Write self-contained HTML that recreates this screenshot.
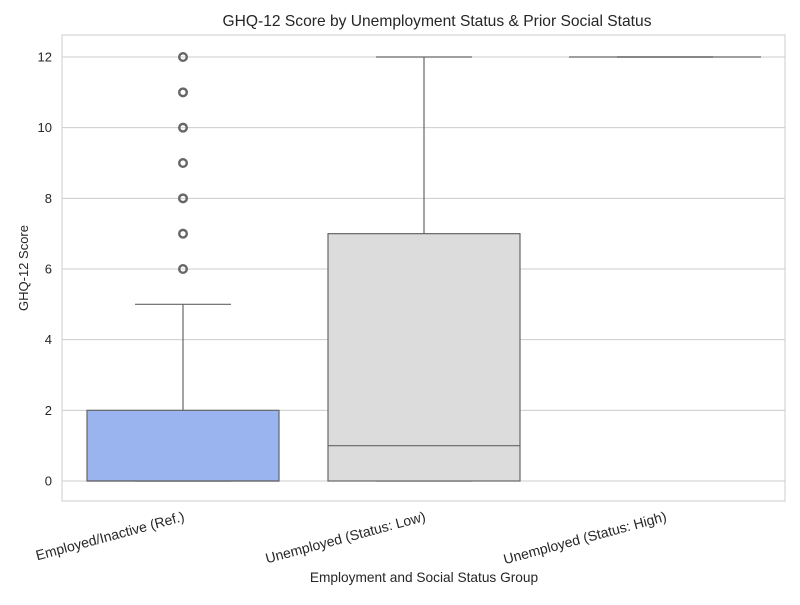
<!DOCTYPE html>
<html><head><meta charset="utf-8"><style>
body{margin:0;background:#fff}
text{font-family:"Liberation Sans",Arial,sans-serif;fill:#262626}
</style></head><body>
<svg id="chart" width="800" height="600" viewBox="0 0 800 600" xmlns="http://www.w3.org/2000/svg">
<rect width="800" height="600" fill="#fff"/>
<text x="437" y="26" text-anchor="middle" font-size="15.6">GHQ-12 Score by Unemployment Status &amp; Prior Social Status</text>
<g id="grid"></g>
<g id="boxes"></g>
<rect x="62" y="35" width="723" height="466" fill="none" stroke="#cccccc" stroke-width="1"/>
<text transform="translate(28,268) rotate(-90)" text-anchor="middle" font-size="13">GHQ-12 Score</text>
<text x="424" y="582" text-anchor="middle" font-size="13.7">Employment and Social Status Group</text>
</svg>
<script>
const categories=["Employed/Inactive (Ref.)","Unemployed (Status: Low)","Unemployed (Status: High)"];
const q1=[0,0,12];
const medians=[0,1,12];
const q3=[2,7,12];
const whiskLo=[0,0,12];
const whiskHi=[5,12,12];
const outliers=[[6,7,8,9,10,11,12],[],[]];
const colors=["#9ab4f0","#dcdcdc","#dcdcdc"];
const yTicks=[0,2,4,6,8,10,12];

const NS="http://www.w3.org/2000/svg";
const y=v=>481-v*(424/12);
const xc=i=>183+i*241;
const bw=192;
function mk(tag,attrs,parent){const e=document.createElementNS(NS,tag);for(const k in attrs)e.setAttribute(k,attrs[k]);parent.appendChild(e);return e;}
const grid=document.getElementById('grid'),boxes=document.getElementById('boxes'),svg=document.getElementById('chart');
yTicks.forEach(t=>{
  const l=mk('line',{x1:62,x2:785,y1:y(t),y2:y(t),stroke:'#cccccc','stroke-width':1},grid);
  
  
  const tx=mk('text',{x:52,y:y(t)+4.5,'text-anchor':'end','font-size':13},svg);
  tx.textContent=t;
  
  
});
categories.forEach((c,i)=>{
  const cx=xc(i),st='#666666';
  const g=mk('g',{},boxes);
  
  
  mk('line',{x1:cx,x2:cx,y1:y(q3[i]),y2:y(whiskHi[i]),stroke:st,'stroke-width':1.2},g);
  mk('line',{x1:cx,x2:cx,y1:y(q1[i]),y2:y(whiskLo[i]),stroke:st,'stroke-width':1.2},g);
  mk('line',{x1:cx-bw/4,x2:cx+bw/4,y1:y(whiskHi[i]),y2:y(whiskHi[i]),stroke:st,'stroke-width':1.2},g);
  mk('line',{x1:cx-bw/4,x2:cx+bw/4,y1:y(whiskLo[i]),y2:y(whiskLo[i]),stroke:st,'stroke-width':1.2},g);
  const r=mk('rect',{x:cx-bw/2,y:y(q3[i]),width:bw,height:Math.max(0,y(q1[i])-y(q3[i])),fill:colors[i],stroke:st,'stroke-width':1.2},g);
  
  
  mk('line',{x1:cx-bw/2,x2:cx+bw/2,y1:y(medians[i]),y2:y(medians[i]),stroke:st,'stroke-width':1.2},g);
  outliers[i].forEach(o=>{
    const ci=mk('circle',{cx:cx,cy:y(o),r:3.8,fill:'none',stroke:st,'stroke-width':2.4},g);
    
    
  });
  const t=mk('text',{transform:`translate(${cx},${512}) rotate(-15)`,'text-anchor':'end','font-size':14,y:9},svg);
  t.textContent=c;
  
  
});
</script>
</body></html>
